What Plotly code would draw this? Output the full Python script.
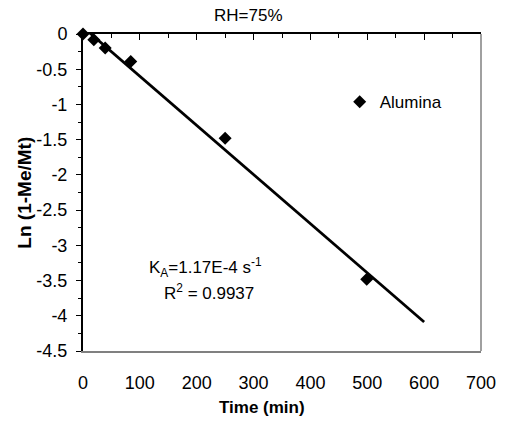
import numpy as np
import plotly.graph_objects as go

# data
time_min = [0, 19, 39, 84, 250, 499]
ln_val = [0.0, -0.08, -0.20, -0.39, -1.48, -3.48]
series_name = "Alumina"
fit_range = [0, 600]
x_ticks = [0, 100, 200, 300, 400, 500, 600, 700]
x_minor = [50, 150, 250, 350, 450, 550, 650]
y_ticks = [0, -0.5, -1, -1.5, -2, -2.5, -3, -3.5, -4, -4.5]
y_labels = ["0", "-0.5", "-1", "-1.5", "-2", "-2.5", "-3", "-3.5", "-4", "-4.5"]

slope, intercept = np.polyfit(time_min, ln_val, 1)
fit_x = np.array(fit_range, dtype=float)
fit_y = intercept + slope * fit_x

FONT = "Liberation Sans, Arial, sans-serif"

fig = go.Figure()
fig.add_trace(go.Scatter(x=fit_x, y=fit_y, mode="lines",
                         line=dict(color="black", width=2.8),
                         showlegend=False, hoverinfo="skip"))
fig.add_trace(go.Scatter(x=time_min, y=ln_val, mode="markers", name=series_name,
                         cliponaxis=False,
                         marker=dict(symbol="diamond", size=10, color="black")))
# top axis carrier
fig.add_trace(go.Scatter(x=[350], y=[-2], xaxis="x2", mode="markers",
                         marker=dict(opacity=0), showlegend=False, hoverinfo="skip"))

fig.update_layout(
    width=508, height=421,
    margin=dict(l=83, r=16, t=34, b=70),
    paper_bgcolor="white", plot_bgcolor="white",
    font=dict(family=FONT, size=17, color="black"),
    xaxis=dict(range=[0, 700], tickvals=x_ticks, ticktext=[str(v) for v in x_ticks],
               showgrid=False, zeroline=False, showline=True, linecolor="#808080",
               linewidth=1.5, ticks="", ticklabelstandoff=15,
               tickfont=dict(family=FONT, size=18)),
    xaxis2=dict(range=[0, 700], overlaying="x", side="top", anchor="y",
                showgrid=False, zeroline=False, showline=True, linecolor="black",
                linewidth=2, ticks="inside", ticklen=6, tickwidth=1.3, tickcolor="black",
                tickvals=x_ticks, showticklabels=False,
                minor=dict(tickvals=x_minor, ticks="inside",
                           ticklen=4, tickcolor="black", tickwidth=1.3)),
    yaxis=dict(range=[-4.5, 0], tickvals=y_ticks, ticktext=y_labels,
               showgrid=False, zeroline=False, showline=True, linecolor="black",
               linewidth=2, ticks="outside", ticklen=5, tickwidth=1.3, tickcolor="black",
               ticklabelstandoff=5,
               minor=dict(dtick=0.25, ticks="outside", ticklen=3, tickcolor="black",
                          tickwidth=1.3),
               tickfont=dict(family=FONT, size=18)),
    legend=dict(x=0.645, y=0.785, xanchor="left", yanchor="middle",
                bgcolor="rgba(0,0,0,0)", font=dict(family=FONT, size=17)),
    shapes=[dict(type="line", xref="x domain", yref="y domain", x0=1, x1=1, y0=0, y1=1,
                 line=dict(color="#808080", width=1.5))],
    annotations=[
        dict(text="RH=75%", xref="paper", yref="paper", x=(253 - 83) / 409,
             y=(351 - 16) / 317, showarrow=False, xanchor="center", yanchor="middle",
             font=dict(family=FONT, size=17)),
        dict(text="K<sub>A</sub>=1.17E-4 s<sup>-1</sup>", xref="x", yref="y", x=216, y=-3.31,
             showarrow=False, xanchor="center", yanchor="middle",
             font=dict(family=FONT, size=17)),
        dict(text="R<sup>2</sup> = 0.9937", xref="x", yref="y", x=222, y=-3.66,
             showarrow=False, xanchor="center", yanchor="middle",
             font=dict(family=FONT, size=17)),
        dict(text="<b>Time (min)</b>", xref="paper", yref="paper", x=(267 - 83) / 409,
             y=(351 - 407) / 317, showarrow=False, xanchor="center", yanchor="middle",
             font=dict(family=FONT, size=17)),
        dict(text="<b>Ln (1-Me/Mt)</b>", xref="paper", yref="paper", x=(22 - 83) / 409,
             y=(351 - 193) / 317, showarrow=False, xanchor="center", yanchor="middle",
             textangle=-90, font=dict(family=FONT, size=19)),
    ],
)

fig.write_html("out.html")
